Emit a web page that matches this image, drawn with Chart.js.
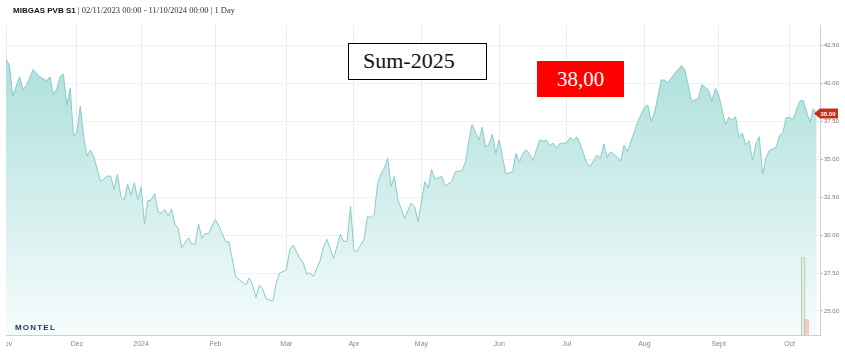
<!DOCTYPE html>
<html>
<head>
<meta charset="utf-8">
<script src="https://cdn.jsdelivr.net/npm/chart.js@4.4.1/dist/chart.umd.min.js"></script>
<style>
  body { margin: 0; background: #fff; }
  #wrap { position: relative; width: 845px; height: 362px; overflow: hidden; }
  #myChart { position: absolute; left: 0; top: 0; }
  .head { position: absolute; left: 13px; top: 5px; font-size: 8.5px; color: #333; white-space: nowrap;
          font-family: "Liberation Serif", serif; }
  .head b { font-family: "Liberation Sans", Arial, sans-serif; font-size: 8px; color: #111; }
  .logo { position: absolute; left: 15px; top: 323px; font: bold 8px "Liberation Sans", Arial, sans-serif;
          letter-spacing: 1.2px; color: #1d2f5f; }
  .box { position: absolute; font-family: "Liberation Serif", serif; font-size: 22px; box-sizing: border-box; }
  .sum { left: 348px; top: 43px; width: 139px; height: 37px; border: 1px solid #000; background: #fff;
         padding-left: 14px; line-height: 33px; color: #111; }
  .precio { left: 537px; top: 61px; width: 87px; height: 36px; background: #ff0000; color: #fff;
            text-align: center; line-height: 36px; font-size: 21px; }
</style>
</head>
<body>
<div id="wrap">
  <canvas id="myChart" width="845" height="362"></canvas>
  <div class="head"><b>MIBGAS PVB S1</b> | 02/11/2023 00:00 - 11/10/2024 00:00 | 1 Day</div>
  <div class="logo">MONTEL</div>
  <div class="box sum">Sum-2025</div>
  <div class="box precio">38,00</div>
</div>
<script>
// datos (indice = dia de negociacion desde 02/11/2023)
const diaIdx = [0,1,2,4,5,6,7,8,10,11,12,13,14,15,16,17,18,19,20,21,22,23,24,25,26,28,30,31,32,33,34,35,36,37,38,39,40,
  41,42,43,44,45,46,47,48,49,50,51,52,53,54,55,56,57,58,59,60,61,62,63,65,66,68,71,72,73,74,75,76,77,79,80,81,83,84,85,
  87,88,89,90,91,93,94,95,96,97,99,100,101,102,103,104,106,107,108,109,110,111,112,113,114,115,116,118,120,121,122,124,
  125,126,127,129,130,132,133,135,136,137,138,140,141,142,143,144,145,146,148,150,151,152,153,154,155,156,158,159,160,
  161,162,163,164,166,167,168,169,170,172,173,175,176,177,178,179,181,182,183,184,187,189,190,191,192,194,195,196,197,
  200,201,203,205,206,208,209,210,211,213,214,215,216,217,218,219,220,221,222,223,224,225,226,228,229,230,231,232,233,
  235,236,238,239,240];
const precios = [41.56,41.18,39.14,40.41,39.59,39.80,40.33,40.90,40.41,40.28,40.13,40.41,39.26,39.59,40.41,40.59,38.55,
  39.65,36.51,36.80,38.49,36.47,35.20,35.59,35.15,33.51,33.88,33.88,33.01,34.01,32.52,32.30,33.36,32.63,33.44,32.30,33.14,
  30.72,32.26,32.30,32.74,31.53,31.43,31.69,31.25,31.71,30.72,30.44,29.16,29.49,29.82,29.41,29.41,30.72,29.78,30.11,30.07,
  30.61,31.02,30.63,29.56,29.54,27.24,26.71,27.17,26.71,25.89,26.68,26.45,25.79,25.66,26.82,27.50,27.70,29.01,29.34,
  28.47,28.18,27.43,27.52,27.26,28.31,29.23,29.72,29.06,28.47,30.05,29.56,29.62,31.91,28.95,28.95,29.72,31.20,31.16,31.32,
  33.36,34.01,34.39,35.05,33.22,33.84,32.35,31.10,32.11,31.86,30.87,33.51,33.09,34.32,33.68,33.86,33.22,33.52,34.16,
  34.24,34.76,36.18,37.27,36.25,37.09,35.79,35.99,36.64,35.36,36.25,34.01,34.16,35.38,34.77,35.39,35.59,35.33,34.90,
  36.25,36.18,36.25,35.86,36.05,35.70,36.03,36.05,36.43,36.23,36.45,35.99,34.67,34.52,35.26,35.07,35.99,35.11,35.48,
  35.13,34.87,35.92,35.48,37.45,38.39,38.55,37.48,38.03,40.20,40.20,40.01,40.36,41.16,40.86,38.77,39.01,39.89,39.54,
  38.80,39.65,39.21,37.27,37.75,37.57,37.78,36.45,36.72,35.92,36.20,34.93,35.99,36.47,34.00,35.05,35.58,35.77,36.55,
  36.72,37.73,37.73,37.61,38.80,38.86,37.42,38.30,38.00];

// volumen
const volIdx = [236, 237];
const volumenes = [25, 5];

// ejes
const mesIdx = [0, 21, 40, 62, 83, 103, 123, 146, 166, 189, 211, 232];
const mesLabels = ["Nov", "Dec", "2024", "Feb", "Mar", "Apr", "May", "Jun", "Jul", "Aug", "Sept", "Oct"];
const precioTicks = [25, 27.5, 30, 32.5, 35, 37.5, 40, 42.5];
const ultimoPrecio = 38.00;

// etiqueta roja del ultimo precio
const etiquetaPrecio = {
  id: "etiquetaPrecio",
  afterDraw(chart) {
    const c = chart.ctx;
    const area = chart.chartArea;
    // la etiqueta "Nov" queda cortada en el borde izquierdo
    c.clearRect(0, area.bottom + 1, area.left - 0.5, chart.height - area.bottom);
    const y = chart.scales.y.getPixelForValue(ultimoPrecio);
    const x = area.right;
    c.save();
    c.fillStyle = "#c4301c";
    c.beginPath();
    c.moveTo(x - 6, y);
    c.lineTo(x, y - 5);
    c.lineTo(x + 18, y - 5);
    c.lineTo(x + 18, y + 5);
    c.lineTo(x, y + 5);
    c.closePath();
    c.fill();
    c.fillStyle = "#fff";
    c.font = "bold 6px 'Liberation Sans', Arial";
    c.textAlign = "center";
    c.textBaseline = "middle";
    c.fillText(ultimoPrecio.toFixed(2), x + 8, y + 0.5);
    c.restore();
  }
};

const relleno = (ctx) => {
  const area = ctx.chart.chartArea;
  if (!area) return null;
  const g = ctx.chart.ctx.createLinearGradient(0, area.top, 0, area.bottom);
  g.addColorStop(0, "rgb(165,220,216)");
  g.addColorStop(1, "rgb(246,252,252)");
  return g;
};

const config = {
  data: {
    datasets: [
      {
        type: "bar",
        yAxisID: "yv",
        order: 0,
        data: volIdx.map((d, i) => ({ x: d, y: volumenes[i] })),
        backgroundColor: ["rgba(228,236,228,0.9)", "rgba(240,205,195,0.95)"],
        borderColor: ["#b5c9b6", "#e0b3a6"],
        borderWidth: 1,
        barThickness: 4
      },
      {
        type: "line",
        order: 1,
        data: diaIdx.map((d, i) => ({ x: d, y: precios[i] })),
        borderColor: "rgb(135,204,198)",
        borderWidth: 1,
        pointRadius: 0,
        tension: 0,
        fill: "start",
        backgroundColor: relleno
      }
    ]
  },
  options: {
    responsive: false,
    animation: false,
    devicePixelRatio: 1,
    layout: { padding: { left: 6, top: 25, right: 0, bottom: 5 } },
    plugins: { legend: { display: false }, tooltip: { enabled: false } },
    scales: {
      x: {
        type: "linear",
        offset: false,
        min: 0,
        max: 241,
        afterBuildTicks: (s) => { s.ticks = mesIdx.map(v => ({ value: v })); },
        afterFit: (s) => { s.height = 22; s.paddingLeft = 0; s.paddingRight = 0; },
        grid: { color: "#ececec", drawTicks: false, offset: false },
        border: { color: "#cfcfcf" },
        ticks: {
          padding: 5,
          color: "#888",
          font: { size: 7, family: "'Liberation Sans', Arial" },
          maxRotation: 0,
          autoSkip: false,
          callback: (v, i) => mesLabels[i]
        }
      },
      y: {
        position: "right",
        min: 23.42,
        max: 43.82,
        afterBuildTicks: (s) => { s.ticks = precioTicks.map(v => ({ value: v })); },
        afterFit: (s) => { s.width = 25; },
        grid: { color: "#f1f1f1", tickLength: 3, tickColor: "#bbb" },
        border: { color: "#cfcfcf" },
        ticks: {
          padding: 1,
          color: "#777",
          font: { size: 6, family: "'Liberation Sans', Arial" },
          callback: (v) => Number(v).toFixed(2)
        }
      },
      yv: { display: false, min: 0, max: 100 }
    }
  },
  plugins: [etiquetaPrecio]
};

new Chart(document.getElementById("myChart"), config);
</script>
</body>
</html>
